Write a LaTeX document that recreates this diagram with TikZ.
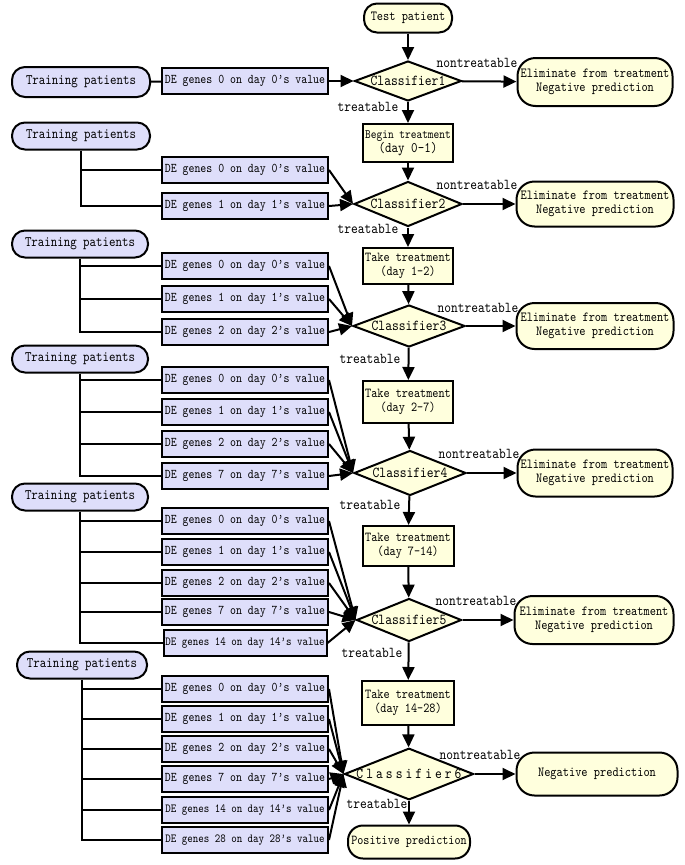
\documentclass[tikz,border=0pt]{standalone}
\usepackage{fontspec}
\setmainfont{lmmono10-regular.otf}[FakeStretch=0.85]
\newfontfamily\clsspaced{lmmono10-regular.otf}[FakeStretch=0.85,LetterSpace=20]
\usetikzlibrary{shapes.geometric,arrows.meta}
\definecolor{lav}{RGB}{222,222,250}
\definecolor{crm}{RGB}{255,255,221}
\newcommand\fsz[1]{\fontsize{#1}{14}\selectfont}
\begin{document}
\begin{tikzpicture}[x=1pt,y=-1pt,
  base/.style={draw, line width=2pt, inner sep=0pt, align=center},
  train/.style={base, fill=lav, rounded corners=13pt, minimum width=138pt, minimum height=28pt, font=\fsz{14.5}},
  de/.style={base, fill=lav, minimum width=166pt, minimum height=26pt, font=\fsz{13.3}},
  del/.style={de, font=\fsz{12.3}},
  term/.style={base, fill=crm, rounded corners=18pt, minimum width=156pt, minimum height=46pt, font=\fsz{13.9}},
  treat/.style={base, fill=crm, minimum width=90pt, minimum height=38pt, font=\fsz{13.7}},
  cls/.style={base, diamond, aspect=2.5, fill=crm, minimum width=108pt, minimum height=43pt, font=\fsz{15.2}},
  lab/.style={inner sep=0pt, font=\fsz{15.1}},
  ln/.style={line width=2pt},
  arr/.style={line width=2pt, -{Triangle[length=13pt,width=12pt]}}]
\useasboundingbox (0,0) rectangle (685,865);
\fill[white] (0,0) rectangle (685,865);

% ---------- row 1
\node[term, minimum width=88pt, minimum height=29pt, rounded corners=13pt] (test) at (408,18) {Test patient};
\node[cls, minimum width=107pt, minimum height=40pt] (c1) at (408,81) {Classifier1};
\node[term, minimum width=155pt, minimum height=48pt] (e1) at (595,82) {Eliminate from treatment\\Negative prediction};
\node[train, minimum height=30pt] (t1) at (81,82) {Training patients};
\node[de] (d1) at (245,81) {DE genes 0 on day 0's value};
\node[lab] (n1) at (477,63) {nontreatable};
\node[lab] (y1) at (368,107) {treatable};
\draw[arr] (test) -- (c1);
\draw[arr] (c1) -- (e1);
\draw[ln] (t1) -- (d1);
\draw[arr] (d1) -- (c1.west);

% ---------- row 2
\node[treat, font=\fsz{12.8}] (b1) at (408,143) {Begin treatment\\{\fsz{14.6}(day 0-1)}};
\node[cls, minimum height=45pt] (c2) at (408,204) {Classifier2};
\node[term, minimum width=157pt, minimum height=45pt] (e2) at (595,204) {Eliminate from treatment\\Negative prediction};
\node[train, minimum height=27pt] (t2) at (81,136) {Training patients};
\node[de] (d20) at (245,170) {DE genes 0 on day 0's value};
\node[de] (d21) at (245,206) {DE genes 1 on day 1's value};
\node[lab] (n2) at (477,185) {nontreatable};
\node[lab] (y2) at (368,229) {treatable};
\draw[arr] (c1) -- (b1);
\draw[arr] (b1) -- (c2);
\draw[arr] (c2) -- (e2);
\draw[ln] (t2.south) |- (d21.west);
\draw[ln] (t2.south |- d20.west) -- (d20.west);
\draw[arr] (d20.east) -- (c2.west);
\draw[arr] (d21.east) -- (c2.west);

% ---------- row 3
\node[treat, minimum height=36pt] (b2) at (408,266) {Take treatment\\(day 1-2)};
\node[cls, minimum width=112pt, minimum height=42pt] (c3) at (409,326) {Classifier3};
\node[term, minimum width=157pt, minimum height=46pt] (e3) at (595,326) {Eliminate from treatment\\Negative prediction};
\node[train, minimum width=136pt, minimum height=27pt] (t3) at (80,244) {Training patients};
\node[de] (d30) at (245,266) {DE genes 0 on day 0's value};
\node[de] (d31) at (245,299) {DE genes 1 on day 1's value};
\node[de] (d32) at (245,332) {DE genes 2 on day 2's value};
\node[lab] (n3) at (478,308) {nontreatable};
\node[lab] (y3) at (370,359) {treatable};
\draw[arr] (c2) -- (b2);
\draw[arr] (b2) -- (c3);
\draw[arr] (c3) -- (e3);
\draw[ln] (t3.south) |- (d32.west);
\foreach \d in {d30,d31} \draw[ln] (t3.south |- \d.west) -- (\d.west);
\foreach \d in {d30,d31,d32} \draw[arr] (\d.east) -- (c3.west);

% ---------- row 4
\node[treat, minimum height=42pt] (b3) at (408,402) {Take treatment\\(day 2-7)};
\node[cls, minimum width=112pt, minimum height=45pt] (c4) at (410,473) {Classifier4};
\node[term, minimum width=155pt, minimum height=47pt] (e4) at (595,473) {Eliminate from treatment\\Negative prediction};
\node[train, minimum width=136pt, minimum height=27pt] (t4) at (80,359) {Training patients};
\node[de] (d40) at (245,380) {DE genes 0 on day 0's value};
\node[de] (d41) at (245,412) {DE genes 1 on day 1's value};
\node[de] (d42) at (245,444) {DE genes 2 on day 2's value};
\node[de] (d47) at (245,476) {DE genes 7 on day 7's value};
\node[lab] (n4) at (479,454) {nontreatable};
\node[lab] (y4) at (370,505) {treatable};
\draw[arr] (c3) -- (b3);
\draw[arr] (b3) -- (c4);
\draw[arr] (c4) -- (e4);
\draw[ln] (t4.south) |- (d47.west);
\foreach \d in {d40,d41,d42} \draw[ln] (t4.south |- \d.west) -- (\d.west);
\foreach \d in {d40,d41,d42,d47} \draw[arr] (\d.east) -- (c4.west);

% ---------- row 5
\node[treat, minimum width=91pt, minimum height=40pt] (b4) at (408,546) {Take treatment\\(day 7-14)};
\node[cls, minimum width=105pt, minimum height=43pt] (c5) at (409,620) {Classifier5};
\node[term, minimum width=159pt, minimum height=48pt] (e5) at (594,620) {Eliminate from treatment\\Negative prediction};
\node[train, minimum width=136pt, minimum height=27pt] (t5) at (80,497) {Training patients};
\node[de] (d50) at (245,521) {DE genes 0 on day 0's value};
\node[de] (d51) at (245,552) {DE genes 1 on day 1's value};
\node[de] (d52) at (245,583) {DE genes 2 on day 2's value};
\node[de] (d57) at (245,612) {DE genes 7 on day 7's value};
\node[del, minimum width=163pt] (d514) at (245,643) {DE genes 14 on day 14's value};
\node[lab] (n5) at (476,601) {nontreatable};
\node[lab] (y5) at (372,653) {treatable};
\draw[arr] (c4) -- (b4);
\draw[arr] (b4) -- (c5);
\draw[arr] (c5) -- (e5);
\draw[ln] (t5.south) |- (d514.west);
\foreach \d in {d50,d51,d52,d57} \draw[ln] (t5.south |- \d.west) -- (\d.west);
\foreach \d in {d50,d51,d52,d57,d514} \draw[arr] (\d.east) -- (c5.west);

% ---------- row 6
\node[treat, minimum width=92pt, minimum height=44pt] (b5) at (408,703) {Take treatment\\(day 14-28)};
\node[cls, minimum width=126pt, minimum height=44pt, font={\clsspaced\fsz{15.2}}] (c6) at (409,774) {Classifier6};
\node[term, minimum width=161pt, minimum height=43pt] (neg) at (597,774) {Negative prediction};
\node[term, minimum width=122pt, minimum height=33pt, rounded corners=15pt, font=\fsz{13.6}] (pos) at (409,842) {Positive prediction};
\node[train, minimum width=130pt, minimum height=27pt] (t6) at (82,665) {Training patients};
\node[de] (d60) at (245,689) {DE genes 0 on day 0's value};
\node[de] (d61) at (245,719) {DE genes 1 on day 1's value};
\node[de] (d62) at (245,749) {DE genes 2 on day 2's value};
\node[de] (d67) at (245,779) {DE genes 7 on day 7's value};
\node[del] (d614) at (245,810) {DE genes 14 on day 14's value};
\node[del] (d628) at (245,840) {DE genes 28 on day 28's value};
\node[lab] (n6) at (480,755) {nontreatable};
\node[lab] (y6) at (377,804) {treatable};
\draw[arr] (c5) -- (b5);
\draw[arr] (b5) -- (c6);
\draw[arr] (c6) -- (neg);
\draw[arr] (c6) -- (pos);
\draw[ln] (t6.south) |- (d628.west);
\foreach \d in {d60,d61,d62,d67,d614} \draw[ln] (t6.south |- \d.west) -- (\d.west);
\foreach \d in {d60,d61,d62,d67,d614,d628} \draw[arr] (\d.east) -- (c6.west);
\end{tikzpicture}
\end{document}
